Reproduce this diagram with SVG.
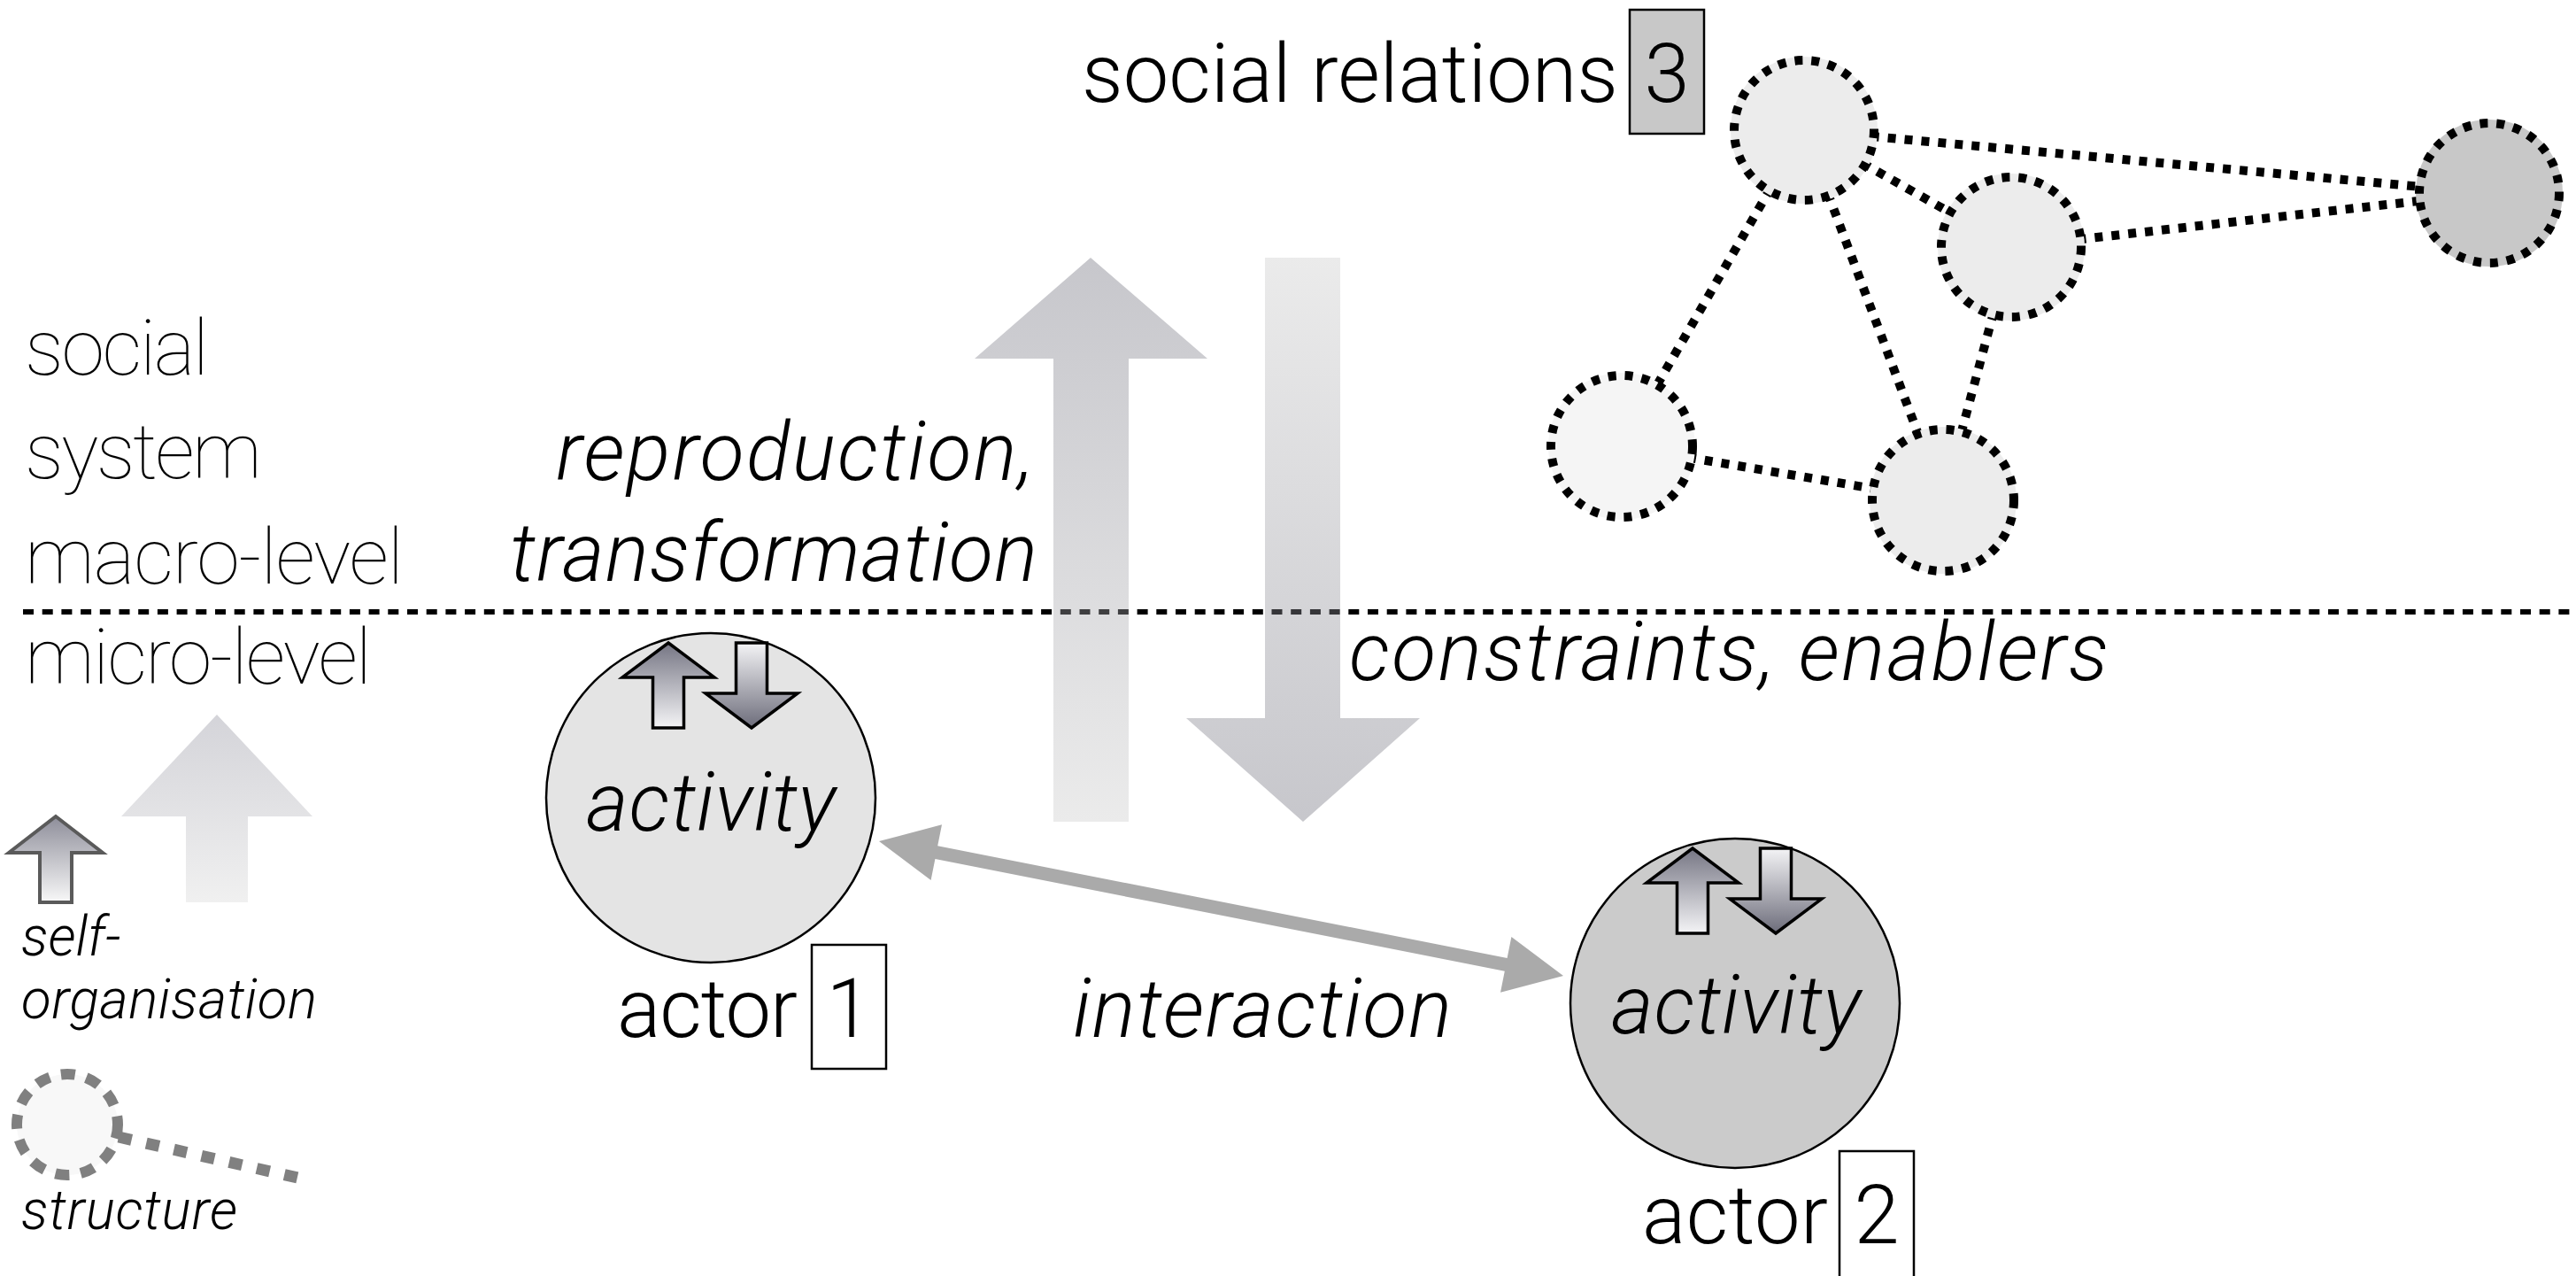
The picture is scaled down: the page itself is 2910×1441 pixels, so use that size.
<svg xmlns="http://www.w3.org/2000/svg" xmlns:xlink="http://www.w3.org/1999/xlink" width="2910" height="1441" viewBox="0 0 2910 1441">
  <style>
    .thin{font-family:Roboto,"Liberation Sans",sans-serif;font-weight:100;font-size:88px;fill:#000}
    .lbl{font-family:Roboto,"Liberation Sans",sans-serif;font-weight:300;font-size:92px;fill:#000}
    .it{font-style:italic}
    .leg{font-family:Roboto,"Liberation Sans",sans-serif;font-weight:300;font-style:italic;font-size:62px;fill:#000}
    .dot{fill:none;stroke:#000;stroke-width:10;stroke-dasharray:9 10}
    .num{fill:#fff;stroke:#000;stroke-width:2.5}
    .sarrow{stroke:#000;stroke-width:3.5;stroke-linejoin:miter}
  </style>
  <defs>
    <linearGradient id="gUpBig" x1="0" y1="0" x2="0" y2="1">
      <stop offset="0" stop-color="#6b6b78" stop-opacity="0.38"/>
      <stop offset="1" stop-color="#cacaca" stop-opacity="0.38"/>
    </linearGradient>
    <linearGradient id="gDnBig" x1="0" y1="0" x2="0" y2="1">
      <stop offset="0" stop-color="#cacaca" stop-opacity="0.38"/>
      <stop offset="1" stop-color="#6b6b78" stop-opacity="0.38"/>
    </linearGradient>
    <linearGradient id="gLegBig" x1="0" y1="0" x2="0" y2="1">
      <stop offset="0" stop-color="#d4d4d9"/>
      <stop offset="1" stop-color="#f0f0f0"/>
    </linearGradient>
    <linearGradient id="gUpSmall" x1="0" y1="0" x2="0" y2="1">
      <stop offset="0" stop-color="#757583"/>
      <stop offset="1" stop-color="#f4f4f6"/>
    </linearGradient>
    <linearGradient id="gDnSmall" x1="0" y1="0" x2="0" y2="1">
      <stop offset="0" stop-color="#f4f4f6"/>
      <stop offset="1" stop-color="#6c6c7a"/>
    </linearGradient>
    <linearGradient id="gSelf" x1="0" y1="0" x2="0" y2="1">
      <stop offset="0" stop-color="#8e8e9a"/>
      <stop offset="1" stop-color="#f8f8f8"/>
    </linearGradient>
    <!-- small up/down arrow pair, coordinates relative to the actor circle centre -->
    <path id="aUp" class="sarrow" fill="url(#gUpSmall)" d="M-48,-175 L4,-136 L-30.5,-136 L-30.5,-79 L-65.5,-79 L-65.5,-136 L-100,-136 Z"/>
    <path id="aDn" class="sarrow" fill="url(#gDnSmall)" d="M28.5,-175 L63.5,-175 L63.5,-118 L98,-118 L46,-79 L-6,-118 L28.5,-118 Z"/>
  </defs>

  <rect width="2910" height="1441" fill="#fff"/>

  <!-- level labels -->
  <g id="levels">
    <text class="thin" x="28" y="423" textLength="208">social</text>
    <text class="thin" x="28" y="540" textLength="268">system</text>
    <text class="thin" x="28" y="659" textLength="428">macro-level</text>
    <text class="thin" x="28" y="772" textLength="392">micro-level</text>
  </g>

  <!-- macro / micro boundary -->
  <line id="boundary" x1="26" y1="691" x2="2910" y2="691" stroke="#000" stroke-width="6" stroke-dasharray="12 9.7"/>

  <g id="connectors">
    <!-- network ties -->
    <g class="dot">
      <line x1="2038" y1="147" x2="2812" y2="218"/>
      <line x1="2272" y1="279" x2="2812" y2="218"/>
      <line x1="2038" y1="147" x2="2272" y2="279"/>
      <line x1="2038" y1="147" x2="1832" y2="504"/>
      <line x1="2038" y1="147" x2="2195" y2="565"/>
      <line x1="2272" y1="279" x2="2195" y2="565"/>
      <line x1="1832" y1="504" x2="2195" y2="565"/>
    </g>
    <!-- reproduction / transformation (upward) -->
    <path id="arrow-up" fill="url(#gUpBig)" d="M1232,291 L1364,405 L1275,405 L1275,928 L1190,928 L1190,405 L1101,405 Z"/>
    <!-- constraints / enablers (downward) -->
    <path id="arrow-down" fill="url(#gDnBig)" d="M1429,291 L1514,291 L1514,811 L1604,811 L1472,928 L1340,811 L1429,811 Z"/>
    <!-- interaction between actors -->
    <path id="interaction-arrow" fill="#aaaaaa" d="M993,950 L1064,931.3 L1059.2,955.3 L1702.6,1081.9 L1707.4,1057.9 L1766,1102 L1695,1120.7 L1699.8,1096.7 L1056.4,970.1 L1051.6,994.1 Z"/>
  </g>

  <!-- social relations network -->
  <g id="relations">
    <text class="lbl" x="1222" y="115" textLength="606">social relations</text>
    <rect x="1841" y="11" width="84" height="140" fill="#c8c8c8" stroke="#000" stroke-width="2.5"/>
    <text class="lbl" x="1883" y="115" text-anchor="middle">3</text>
  </g>
  <g id="node-a"><circle cx="2038" cy="147" r="83" fill="#ececec"/><circle class="dot" cx="2038" cy="147" r="79"/></g>
  <g id="node-b"><circle cx="2812" cy="218" r="83" fill="#c8c8c8"/><circle class="dot" cx="2812" cy="218" r="79"/></g>
  <g id="node-c"><circle cx="2272" cy="279" r="83" fill="#ececec"/><circle class="dot" cx="2272" cy="279" r="79"/></g>
  <g id="node-d"><circle cx="1832" cy="504" r="83" fill="#f5f5f5"/><circle class="dot" cx="1832" cy="504" r="80"/></g>
  <g id="node-e"><circle cx="2195" cy="565" r="83" fill="#ececec"/><circle class="dot" cx="2195" cy="565" r="80"/></g>

  <!-- arrow labels -->
  <g id="arrow-labels">
    <text class="lbl it" x="1168" y="542" text-anchor="end" textLength="540">reproduction,</text>
    <text class="lbl it" x="1172" y="656" text-anchor="end" textLength="596">transformation</text>
    <text class="lbl it" x="1524" y="768" textLength="858">constraints, enablers</text>
    <text class="lbl it" x="1426" y="1171" text-anchor="middle" textLength="428">interaction</text>
  </g>

  <!-- actor 1 -->
  <g id="actor-1">
    <circle cx="803" cy="901" r="186" fill="#e4e4e4" stroke="#000" stroke-width="2.5"/>
    <use xlink:href="#aUp" x="803" y="901"/>
    <use xlink:href="#aDn" x="803" y="901"/>
    <text class="lbl it" x="803" y="938" text-anchor="middle" textLength="282">activity</text>
    <text class="lbl" x="697" y="1171" textLength="204">actor</text>
    <rect class="num" x="917" y="1067" width="84" height="140"/>
    <text class="lbl" x="959" y="1171" text-anchor="middle">1</text>
  </g>

  <!-- actor 2 -->
  <g id="actor-2">
    <circle cx="1960" cy="1133" r="186" fill="#cbcbcb" stroke="#000" stroke-width="2.5"/>
    <use xlink:href="#aUp" x="1960" y="1133"/>
    <use xlink:href="#aDn" x="1960" y="1133"/>
    <text class="lbl it" x="1961" y="1167" text-anchor="middle" textLength="282">activity</text>
    <text class="lbl" x="1855" y="1404" textLength="210">actor</text>
    <rect class="num" x="2078" y="1300" width="84" height="150"/>
    <text class="lbl" x="2120" y="1404" text-anchor="middle">2</text>
  </g>

  <!-- legend -->
  <g id="legend">
    <path fill="url(#gLegBig)" d="M245,807 L353,922 L280,922 L280,1019 L210,1019 L210,922 L137,922 Z"/>
    <path fill="url(#gSelf)" stroke="#5a5a5a" stroke-width="4" d="M63,922 L116,963 L81,963 L81,1019 L45,1019 L45,963 L10,963 Z"/>
    <text class="leg" x="24" y="1079">self-</text>
    <text class="leg" x="24" y="1150" textLength="334">organisation</text>
    <circle cx="76" cy="1270" r="57" fill="#f8f8f8" stroke="#808080" stroke-width="12" stroke-dasharray="16 13"/>
    <line x1="134" y1="1284" x2="336" y2="1330" stroke="#808080" stroke-width="13" stroke-dasharray="15 17"/>
    <text class="leg" x="24" y="1388" textLength="244">structure</text>
  </g>
</svg>
